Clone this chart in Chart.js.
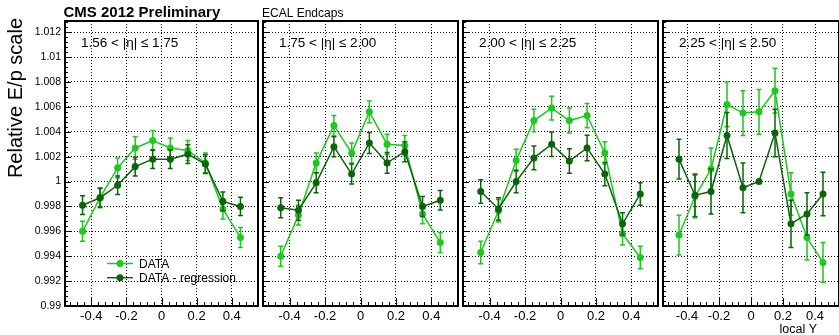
<!DOCTYPE html>
<html>
<head>
<meta charset="utf-8">
<script src="https://cdn.jsdelivr.net/npm/chart.js@4/dist/chart.umd.min.js"></script>
<style>
  html, body { margin: 0; padding: 0; background: #fff; width: 839px; height: 335px; overflow: hidden; }
  .pane { position: absolute; top: 0; height: 335px; }
  canvas { display: block; }
</style>
</head>
<body>
<div class="pane" style="left:0px"><canvas id="pane0" width="262" height="335"></canvas></div>
<div class="pane" style="left:259px"><canvas id="pane1" width="203" height="335"></canvas></div>
<div class="pane" style="left:459px"><canvas id="pane2" width="203" height="335"></canvas></div>
<div class="pane" style="left:659px"><canvas id="pane3" width="184" height="335"></canvas></div>
<script>
// Bin centres in local Y
const localY = [-0.45, -0.35, -0.25, -0.15, -0.05, 0.05, 0.15, 0.25, 0.35, 0.45];

// |eta| bins
const etaBins = ['1.56 < |η| ≤ 1.75', '1.75 < |η| ≤ 2.00', '2.00 < |η| ≤ 2.25', '2.25 < |η| ≤ 2.50'];

// Relative E/p scale, DATA
const dataBin1 = [0.9960, 0.9987, 1.0011, 1.0027, 1.0033, 1.0027, 1.0025, 1.0015, 0.9978, 0.9955];
const dataBin2 = [0.9940, 0.9973, 1.0015, 1.0045, 1.0023, 1.0056, 1.0030, 1.0029, 0.9974, 0.9951];
const dataBin3 = [0.9943, 0.99765, 1.0017, 1.0049, 1.0059, 1.0049, 1.0053, 1.0023, 0.9958, 0.9939];
const dataBin4 = [0.9957, 0.9988, 1.0010, 1.0062, 1.0055, 1.0056, 1.0073, 0.9990, 0.9955, 0.9935];

// Statistical errors, DATA
const dataErrBin1 = [0.0008, 0.0008, 0.0008, 0.0009, 0.0008, 0.0008, 0.0008, 0.0008, 0.0008, 0.0008];
const dataErrBin2 = [0.0008, 0.0008, 0.0008, 0.0008, 0.0008, 0.00087, 0.0008, 0.0008, 0.0008, 0.0008];
const dataErrBin3 = [0.0009, 0.0009, 0.0009, 0.0009, 0.00096, 0.001, 0.00098, 0.0009, 0.0009, 0.0009];
const dataErrBin4 = [0.0016, 0.0017, 0.0017, 0.0018, 0.0018, 0.0018, 0.0018, 0.0017, 0.0018, 0.0016];

// Relative E/p scale, DATA - regression
const regrBin1 = [0.9981, 0.9987, 0.9997, 1.0012, 1.0018, 1.0018, 1.0022, 1.0014, 0.9984, 0.9980];
const regrBin2 = [0.9979, 0.9977, 0.9999, 1.0028, 1.0006, 1.0031, 1.0015, 1.0024, 0.9980, 0.9985];
const regrBin3 = [0.9992, 0.9978, 1.0000, 1.0019, 1.0030, 1.00165, 1.0027, 1.0006, 0.9966, 0.9990];
const regrBin4 = [1.0018, 0.9989, 0.9992, 1.0037, 0.9995, 1.0000, 1.0039, 0.9966, 0.9974, 0.9990];

// Statistical errors, DATA - regression
const regrErrBin1 = [0.00075, 0.00075, 0.00075, 0.00075, 0.00075, 0.00075, 0.00076, 0.00075, 0.00075, 0.00073];
const regrErrBin2 = [0.0008, 0.0008, 0.0008, 0.0008, 0.0008, 0.00084, 0.00083, 0.0008, 0.0008, 0.00078];
const regrErrBin3 = [0.00094, 0.0009, 0.0009, 0.00095, 0.00099, 0.00098, 0.00102, 0.00094, 0.0009, 0.0009];
const regrErrBin4 = [0.0016, 0.0017, 0.0018, 0.00185, 0.0020, 0, 0.0019, 0.0019, 0.0017, 0.00175];

// Axis ticks
const yTickValues = [0.99, 0.992, 0.994, 0.996, 0.998, 1.0, 1.002, 1.004, 1.006, 1.008, 1.01, 1.012];
const yTickLabels = ['0.99', '0.992', '0.994', '0.996', '0.998', '1', '1.002', '1.004', '1.006', '1.008', '1.01', '1.012'];
const xTickValues = [-0.4, -0.2, 0, 0.2, 0.4];
const xTickLabels = ['-0.4', '-0.2', '0', '0.2', '0.4'];

const seriesNames = ['DATA', 'DATA - regression'];

const Y_MIN = 0.99, Y_MAX = 1.0129;
const X_MIN = -0.55, X_MAX = 0.55;
const COL_DATA = '#1ec81e';
const COL_REGR = '#0a640a';
const FONT = '"Liberation Sans", Arial, Helvetica, sans-serif';

const dataBins = [dataBin1, dataBin2, dataBin3, dataBin4];
const dataErrBins = [dataErrBin1, dataErrBin2, dataErrBin3, dataErrBin4];
const regrBins = [regrBin1, regrBin2, regrBin3, regrBin4];
const regrErrBins = [regrErrBin1, regrErrBin2, regrErrBin3, regrErrBin4];

// Pane geometry: left axis box width and right padding of each canvas
const paneLayout = [
  { axisW: 65, padR: 3 },
  { axisW: 3, padR: 3 },
  { axisW: 3, padR: 3 },
  { axisW: 3, padR: 2 }
];

// Vertical error bars with small caps, drawn just before each dataset
const errorBars = {
  id: 'errorBars',
  beforeDatasetDraw(chart, args) {
    const ds = chart.data.datasets[args.index];
    if (!ds.yErr) return;
    const { ctx, scales: { x, y } } = chart;
    ctx.save();
    ctx.strokeStyle = ds.borderColor;
    ctx.lineWidth = 1.5;
    ds.data.forEach((p, i) => {
      const e = ds.yErr[i];
      if (!e) return;
      const px = x.getPixelForValue(p.x);
      const yt = y.getPixelForValue(p.y + e);
      const yb = y.getPixelForValue(p.y - e);
      ctx.beginPath();
      ctx.moveTo(px, yt); ctx.lineTo(px, yb);
      ctx.moveTo(px - 2.5, yt); ctx.lineTo(px + 2.5, yt);
      ctx.moveTo(px - 2.5, yb); ctx.lineTo(px + 2.5, yb);
      ctx.stroke();
    });
    ctx.restore();
  }
};

// Frame box and inward ticks on the left and bottom axes
const frameTicks = {
  id: 'frameTicks',
  afterDraw(chart) {
    const { ctx, chartArea: a, scales: { x, y } } = chart;
    ctx.save();
    ctx.strokeStyle = '#000';
    ctx.lineWidth = 1;
    ctx.beginPath();
    for (let k = 0; ; k++) {
      const v = Y_MIN + k * 0.0004;
      if (v > Y_MAX) break;
      const py = Math.round(y.getPixelForValue(v)) + 0.5;
      const len = (k % 5 === 0) ? 6 : 3;
      ctx.moveTo(a.left, py); ctx.lineTo(a.left + len, py);
    }
    for (let k = Math.ceil(X_MIN / 0.04); k * 0.04 <= X_MAX; k++) {
      const px = Math.round(x.getPixelForValue(k * 0.04)) + 0.5;
      const len = (k % 5 === 0) ? 8 : 4;
      ctx.moveTo(px, a.bottom); ctx.lineTo(px, a.bottom - len);
    }
    ctx.stroke();
    ctx.lineWidth = 2;
    ctx.strokeRect(a.left, a.top, a.right - a.left, a.bottom - a.top);
    ctx.restore();
  }
};

// Text annotations: bin label, titles and legend
const annotations = {
  id: 'annotations',
  afterDraw(chart, args, opts) {
    const { ctx, chartArea: a } = chart;
    ctx.save();
    ctx.fillStyle = '#000';
    ctx.textBaseline = 'alphabetic';
    ctx.textAlign = 'left';
    ctx.font = '13.5px ' + FONT;
    ctx.fillText(opts.binLabel, a.left + 16, 46.5);
    if (opts.pane === 0) {
      ctx.font = 'bold 15px ' + FONT;
      ctx.fillText('CMS 2012 Preliminary', 63.5, 17.3);
      // y axis title
      ctx.save();
      ctx.translate(21.5, 18);
      ctx.rotate(-Math.PI / 2);
      ctx.textAlign = 'right';
      ctx.font = '20px ' + FONT;
      ctx.fillText('Relative E/p scale', 0, 0);
      ctx.restore();
      // legend
      const rows = [[COL_DATA, 263.5], [COL_REGR, 277.7]];
      rows.forEach(([c, ly], i) => {
        ctx.strokeStyle = c;
        ctx.fillStyle = c;
        ctx.lineWidth = 1.5;
        ctx.beginPath();
        ctx.moveTo(107, ly); ctx.lineTo(133, ly);
        ctx.stroke();
        ctx.beginPath();
        ctx.arc(120, ly, 3.5, 0, Math.PI * 2);
        ctx.fill();
        ctx.fillStyle = '#000';
        ctx.font = '12px ' + FONT;
        ctx.fillText(seriesNames[i], 139, ly + 4.4);
      });
    }
    if (opts.pane === 1) {
      ctx.font = '12px ' + FONT;
      ctx.fillText('ECAL Endcaps', 3, 16.7);
    }
    if (opts.pane === 3) {
      ctx.textAlign = 'right';
      ctx.font = '12.5px ' + FONT;
      ctx.fillText('local Y', 158, 333);
    }
    ctx.restore();
  }
};

function points(vals) {
  return localY.map((xv, i) => ({ x: xv, y: vals[i] }));
}

for (let p = 0; p < 4; p++) {
  const lay = paneLayout[p];
  new Chart(document.getElementById('pane' + p), {
    type: 'line',
    data: {
      datasets: [
        {
          label: seriesNames[0],
          data: points(dataBins[p]),
          yErr: dataErrBins[p],
          borderColor: COL_DATA,
          backgroundColor: COL_DATA,
          pointBackgroundColor: COL_DATA,
          borderWidth: 1.5,
          pointRadius: 3.5,
          pointBorderWidth: 0,
          tension: 0,
          order: 1
        },
        {
          label: seriesNames[1],
          data: points(regrBins[p]),
          yErr: regrErrBins[p],
          borderColor: COL_REGR,
          backgroundColor: COL_REGR,
          pointBackgroundColor: COL_REGR,
          borderWidth: 1.5,
          pointRadius: 3.5,
          pointBorderWidth: 0,
          tension: 0,
          order: 0
        }
      ]
    },
    options: {
      responsive: false,
      animation: false,
      devicePixelRatio: 1,
      layout: { padding: { top: 21, right: lay.padR, bottom: 0, left: 0 } },
      plugins: {
        legend: { display: false },
        tooltip: { enabled: false },
        annotations: { pane: p, binLabel: etaBins[p] }
      },
      scales: {
        x: {
          type: 'linear',
          min: X_MIN,
          max: X_MAX,
          afterBuildTicks: (s) => { s.ticks = xTickValues.map(v => ({ value: v })); },
          afterFit: (s) => { s.height = 29; },
          ticks: {
            autoSkip: false,
            maxRotation: 0,
            padding: 3,
            color: '#000',
            font: { family: FONT, size: 13 },
            callback: (v, i) => xTickLabels[i]
          },
          grid: { color: '#000', lineWidth: 1, drawTicks: false },
          border: { display: false, dash: [1, 2] }
        },
        y: {
          type: 'linear',
          min: Y_MIN,
          max: Y_MAX,
          afterBuildTicks: (s) => { s.ticks = yTickValues.map(v => ({ value: v })); },
          afterFit: (s) => { s.width = lay.axisW; },
          ticks: {
            display: p === 0,
            autoSkip: false,
            padding: 4,
            color: '#000',
            font: { family: FONT, size: 10.5 },
            callback: (v, i) => yTickLabels[i]
          },
          grid: { color: '#000', lineWidth: 1, drawTicks: false },
          border: { display: false, dash: [1, 2] }
        }
      }
    },
    plugins: [errorBars, frameTicks, annotations]
  });
}
</script>
</body>
</html>
